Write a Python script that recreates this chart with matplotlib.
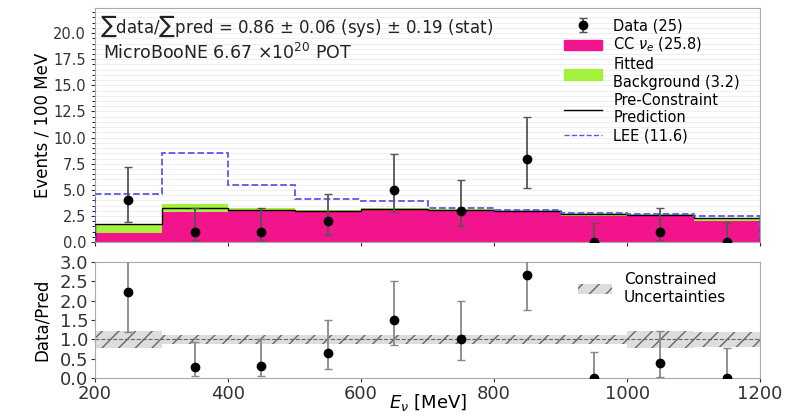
import numpy as np
import matplotlib.pyplot as plt
from matplotlib.patches import Patch
from matplotlib.lines import Line2D
from matplotlib.ticker import MultipleLocator

bin_edges = [200, 300, 400, 500, 600, 700, 800, 900, 1000, 1100, 1200]
bin_centers = [250, 350, 450, 550, 650, 750, 850, 950, 1050, 1150]

data = [4, 1, 1, 2, 5, 3, 8, 0, 1, 0]
data_lo = [1.9, 0.17, 0.17, 0.7, 2.9, 1.5, 5.2, 0.0, 0.17, 0.0]
data_hi = [7.2, 3.3, 3.3, 4.6, 8.4, 5.9, 12.0, 1.8, 3.3, 1.8]

cc_nue = [0.9, 2.9, 3.0, 2.9, 3.15, 3.0, 2.9, 2.55, 2.5, 2.0]
fitted_bkg = [0.85, 0.75, 0.3, 0.15, 0.15, 0.15, 0.15, 0.2, 0.2, 0.3]
pre_constraint = [1.75, 3.3, 3.1, 2.95, 3.2, 3.05, 2.95, 2.65, 2.6, 2.35]
lee = [4.6, 8.5, 5.45, 4.1, 3.9, 3.25, 3.1, 2.75, 2.7, 2.5]

ratio = [2.22, 0.28, 0.32, 0.65, 1.5, 1.0, 2.65, 0.0, 0.38, 0.0]
ratio_lo = [1.18, 0.05, 0.05, 0.23, 0.85, 0.47, 1.75, 0.0, 0.03, 0.0]
ratio_hi = [3.2, 0.92, 1.0, 1.5, 2.5, 2.0, 3.6, 0.68, 1.22, 0.78]
band = [0.22, 0.11, 0.11, 0.11, 0.11, 0.11, 0.11, 0.11, 0.22, 0.2]

pink = '#f2148c'
green = '#a4f03c'
blue = '#5a5ae6'
grey = '#aaaaaa'

fig = plt.figure(figsize=(7.86, 4.19), dpi=100)
ax = fig.add_axes([0.121, 0.422, 0.846, 0.559])
axr = fig.add_axes([0.121, 0.098, 0.846, 0.277], sharex=ax)

cc = np.array(cc_nue)
bkg = np.array(fitted_bkg)
ax.bar(bin_centers, cc, width=100, color=pink, linewidth=0, zorder=2)
ax.bar(bin_centers, bkg, bottom=cc, width=100, color=green, linewidth=0, zorder=2)
ax.stairs(pre_constraint, bin_edges, color='black', linewidth=1.0, zorder=3)
ax.stairs(lee, bin_edges, color=blue, linestyle='--', linewidth=1.3, zorder=3)

d = np.array(data)
yerr = [d - np.array(data_lo), np.array(data_hi) - d]
data_handle = ax.errorbar(bin_centers, data, yerr=yerr, fmt='o', color='black', ecolor='#555555',
                          elinewidth=1.3, capsize=3, markersize=6, zorder=4)

ax.set_xlim(200, 1200)
ax.set_ylim(0, 22.4)
ax.yaxis.set_major_locator(MultipleLocator(2.5))
ax.yaxis.set_minor_locator(MultipleLocator(0.5))
ax.grid(axis='y', which='both', color='#eeeeee', linewidth=0.6, zorder=0)
ax.set_axisbelow(True)
ax.set_ylabel('Events / 100 MeV', fontsize=12)
ax.yaxis.set_label_coords(-0.066, 0.5)
ax.tick_params(labelbottom=False, labelsize=10.5, colors='#333333', length=3)
ax.tick_params(which='minor', length=2)
for s in ax.spines.values():
    s.set_color(grey)

ax.text(0.008, 0.975, r'$\sum$data/$\sum$pred = 0.86 $\pm$ 0.06 (sys) $\pm$ 0.19 (stat)',
        transform=ax.transAxes, fontsize=12, va='top', color='#222222')
ax.text(0.012, 0.85, r'MicroBooNE 6.67 $\times10^{20}$ POT',
        transform=ax.transAxes, fontsize=12.5, va='top', color='#222222')

handles = [
    data_handle,
    Patch(color=pink),
    Patch(color=green),
    Line2D([], [], color='black', linewidth=1.0),
    Line2D([], [], color=blue, linestyle='--', linewidth=1.0),
]
labels = ['Data (25)', r'CC $\nu_e$ (25.8)', 'Fitted\nBackground (3.2)',
          'Pre-Constraint\nPrediction', 'LEE (11.6)']
ax.legend(handles, labels, loc='upper right', bbox_to_anchor=(0.985, 1.0), frameon=False,
          fontsize=10.5, handlelength=2.6, labelspacing=0.2, borderaxespad=0.3)

b = np.array(band)
axr.bar(bin_centers, 2 * b, bottom=1 - b, width=100, color='#dddddd', edgecolor='#666666',
        hatch='//', linewidth=0, zorder=1, label='Constrained\nUncertainties')
axr.axhline(1.0, color='#666666', linestyle='--', linewidth=0.8, zorder=2)
r = np.array(ratio)
rerr = [r - np.array(ratio_lo), np.array(ratio_hi) - r]
axr.errorbar(bin_centers, ratio, yerr=rerr, fmt='o', color='black', ecolor='#888888',
             elinewidth=1.3, capsize=3, markersize=6, zorder=4, clip_on=True)
axr.set_ylim(0, 3.0)
axr.yaxis.set_major_locator(MultipleLocator(0.5))
axr.xaxis.set_major_locator(MultipleLocator(200))
axr.set_ylabel('Data/Pred', fontsize=12)
axr.yaxis.set_label_coords(-0.066, 0.5)
axr.set_xlabel(r'$E_\nu$ [MeV]', fontsize=13)
axr.xaxis.set_label_coords(0.5, -0.125)
axr.tick_params(labelsize=13, colors='#333333', length=3, pad=2)
for s in axr.spines.values():
    s.set_color(grey)
axr.legend(loc='upper right', frameon=False, fontsize=11, handlelength=2.2,
           labelspacing=0.05, bbox_to_anchor=(0.97, 1.03))

fig.savefig('out.png', dpi=100)
